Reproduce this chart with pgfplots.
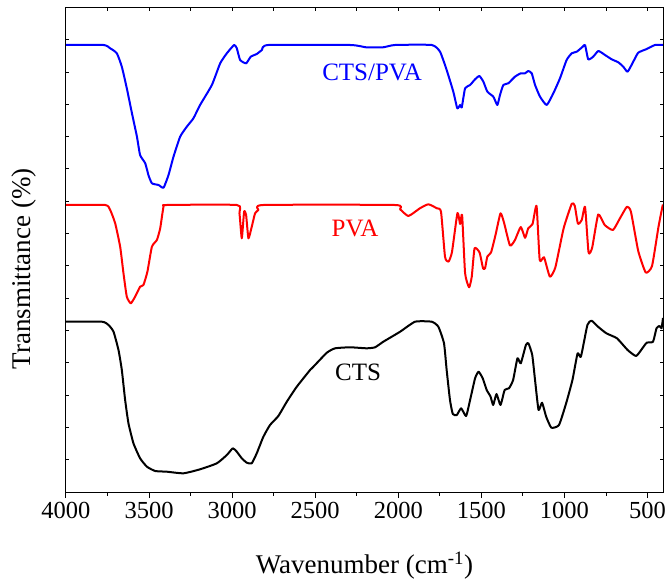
\documentclass[border=0pt]{standalone}
\usepackage{fontspec}
\setmainfont{Liberation Serif}
\usepackage{pgfplots}
\pgfplotsset{compat=1.18}
\definecolor{cblue}{RGB}{0,0,255}
\definecolor{cred}{RGB}{255,0,0}
\begin{document}
\begin{tikzpicture}
\pgfplotsset{
  common/.style={
    width=597bp, height=484bp, scale only axis,
    x dir=reverse, xmin=407, xmax=4000, ymin=0, ymax=484,
    axis line style={line width=1bp},
    every tick/.style={black, line width=1bp},
  }
}
% main axis with data, bottom ticks outward
\begin{axis}[common,
  xtick={4000,3500,3000,2500,2000,1500,1000,500},
  xticklabels={4000,3500,3000,2500,2000,1500,1000,500},
  minor xtick={3750,3250,2750,2250,1750,1250,750},
  xtick pos=bottom, tick align=outside,
  major tick length=6bp, minor tick length=3.5bp,
  ytick=\empty,
  xticklabel style={font=\fontsize{24.5bp}{29bp}\selectfont, yshift=-1bp},
  xlabel={Wavenumber (cm\textsuperscript{-1})},
  ylabel={Transmittance (\%)},
  xlabel style={font=\fontsize{27bp}{32bp}\selectfont, at={(axis description cs:0.5,-0.153)}, anchor=center},
  ylabel style={font=\fontsize{27bp}{32bp}\selectfont, at={(axis description cs:-0.0704,0.461)}, anchor=center},
  every axis plot/.append style={line width=2bp, line join=round, smooth, tension=0.3},
]
% CTS/PVA
\addplot[cblue] coordinates {
(4000,447) (3774,447) (3734,443.7) (3694,438.7) (3664,425.3) (3634,403.7) (3603,378.7)
(3573,355.3) (3554,337) (3523,328.7) (3504,317) (3483,308.7) (3443,307) (3413,304.3)
(3383,317) (3353,335.3) (3313,355.3) (3273,365.3) (3233,373.7) (3193,387) (3122,407)
(3072,428.7) (3032,438.7) (2988,447) (2972,443.7) (2952,432) (2916,428.7) (2888,435.3)
(2852,438) (2821,442) (2782,447) (2290,447) (2194,444.7) (2092,444.7) (2020,447)
(1799,447) (1749,440.3) (1709,422) (1669,400.3) (1645,383.7) (1628,387) (1618,384.7)
(1598,403.7) (1568,407) (1538,412.7) (1512,416) (1488,410.3) (1464,400.3) (1428,395.3)
(1404,387) (1388,397) (1368,407) (1338,408.7) (1298,415.3) (1263,418.7) (1237,418.7)
(1218,421) (1197,418.7) (1177,407) (1147,395.3) (1107,387) (1067,398.7) (1027,413.7)
(987,432) (956,438.7) (926,440.3) (890,445.3) (876,447) (857,432.7) (827,435.3)
(796,441) (756,437) (716,432.7) (676,429.7) (646,425.3) (620,420.3) (586,430.3)
(556,439.3) (505,443) (455,447) (407,447)
};
% PVA
\addplot[cred] coordinates {
(4000,287) (3764,287) (3734,282) (3704,268.7) (3674,245.3) (3654,218.7) (3634,195.3)
(3610,188.7) (3584,195.3) (3554,205.3) (3534,207) (3510,220.3) (3483,245.3) (3453,252)
(3433,263.7) (3413,285.3) (3393,287) (2972,287) (2956,278.7) (2942,253.7) (2928,280.3)
(2916,277) (2902,253.7) (2882,265.3) (2862,278.7) (2842,282) (2812,287) (2023,287)
(1989,282.7) (1939,276) (1870,283.7) (1819,287.7) (1768,283.7) (1743,280.3) (1719,235.3)
(1698,230.3) (1677,240) (1644,279) (1628,268) (1616,277) (1598,218.7) (1574,204.7)
(1558,215.3) (1541,243.7) (1511,239.5) (1490,223.7) (1478,223.7) (1464,235.5) (1442,239.5)
(1415,257) (1385,278.7) (1364,269.5) (1328,246.5) (1298,252) (1263,265) (1237,254.2)
(1218,263.7) (1192,268) (1168,286) (1149,232) (1123,234.7) (1088,215.3) (1055,224.5)
(1005,263.7) (956,288.3) (938,286.2) (919,268.3) (896,272) (876,285) (855,239.5)
(833,244.5) (797,277.5) (758,267) (708,262) (666,273.7) (624,285.3) (600,280.3)
(556,241) (511,219.5) (473,226) (434,265.3) (408,287.5)
};
% CTS
\addplot[black] coordinates {
(4000,170.3) (3784,170.3) (3744,167) (3714,160.3) (3684,142) (3664,122) (3644,92)
(3624,68.7) (3594,48.7) (3554,33.7) (3513,25.3) (3463,21) (3393,20.3) (3293,18.7)
(3193,22.7) (3092,28.7) (3032,37) (2996,43.7) (2972,40.3) (2942,33.7) (2912,29.3)
(2882,28.7) (2852,38.7) (2812,55.3) (2772,67) (2722,76) (2671,90.3) (2611,105.3)
(2531,122) (2511,125.3) (2430,139.3) (2380,143.7) (2290,144.7) (2190,143.7) (2140,144.7)
(2090,150.3) (1989,160.3) (1899,170.3) (1799,170.3) (1759,165.3) (1725,148.7) (1709,122)
(1689,92) (1672,78) (1648,77) (1622,83.7) (1592,76) (1568,92) (1538,113.7) (1517,120.3)
(1492,113.7) (1468,102) (1445,95.5) (1429,87) (1409,98) (1385,87) (1360,102) (1334,103.7)
(1309,112) (1283,133.7) (1263,128.7) (1232,147) (1217,148.7) (1194,137) (1176,110.3)
(1156,82) (1135,89.3) (1110,75.3) (1079,64.3) (1033,67) (990,88.7) (952,112) (921,138.7)
(901,135.3) (862,167) (837,171.3) (798,165.3) (748,158.7) (684,153.7) (620,142)
(569,136) (531,143.7) (505,149.3) (467,150.3) (446,163.7) (428,166) (416,163.7) (407,174)
};
\node[cblue, font=\fontsize{25bp}{30bp}\selectfont] at (axis cs:2158,420) {CTS/PVA};
\node[cred, font=\fontsize{25bp}{30bp}\selectfont] at (axis cs:2260,264) {PVA};
\node[black, font=\fontsize{25bp}{30bp}\selectfont] at (axis cs:2242,120) {CTS};
\end{axis}
% overlay axis: top ticks and y ticks pointing inward
\begin{axis}[common,
  xtick={4000,3500,3000,2500,2000,1500,1000,500},
  minor xtick={3750,3250,2750,2250,1750,1250,750},
  xtick pos=top, tick align=inside,
  ytick={32.3,64.6,96.9,129.2,161.5,193.8,226.1,258.4,290.7,323,355.3,387.6,419.9,452.2},
  ytick pos=both,
  major tick length=3.5bp, minor tick length=3.5bp,
  xticklabels={}, yticklabels={},
]
\end{axis}
\pgfresetboundingbox
\path[use as bounding box] (-66bp,-92bp) rectangle (599bp,492bp);
\end{tikzpicture}
\end{document}
